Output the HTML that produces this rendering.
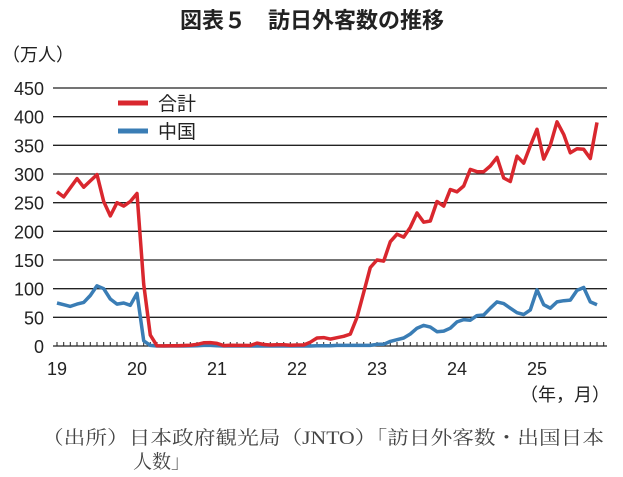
<!DOCTYPE html>
<html><head><meta charset="utf-8"><style>
body{margin:0;background:#fff;}
svg{display:block;}
</style></head><body>
<svg width="623" height="477" viewBox="0 0 623 477" xmlns="http://www.w3.org/2000/svg">
<text x="312" y="28" text-anchor="middle" font-family="'Liberation Sans','Noto Sans CJK JP',sans-serif" font-size="22" font-weight="bold" fill="#222">図表５　訪日外客数の推移</text>
<text x="2" y="61" font-family="'Liberation Sans','Noto Sans CJK JP',sans-serif" font-size="18" fill="#222">（万人）</text>
<g stroke="#222" stroke-width="1.3">
<line x1="53" x2="607" y1="88" y2="88"/><line x1="53" x2="607" y1="116.7" y2="116.7"/>
<line x1="53" x2="607" y1="145.3" y2="145.3"/><line x1="53" x2="607" y1="174" y2="174"/>
<line x1="53" x2="607" y1="202.7" y2="202.7"/><line x1="53" x2="607" y1="231.3" y2="231.3"/>
<line x1="53" x2="607" y1="260" y2="260"/><line x1="53" x2="607" y1="288.7" y2="288.7"/>
<line x1="53" x2="607" y1="317.3" y2="317.3"/><line x1="53" x2="607" y1="346" y2="346"/>
</g>
<g font-family="'Liberation Sans',sans-serif" font-size="18" fill="#222" text-anchor="end">
<text x="44" y="95">450</text><text x="44" y="123.7">400</text><text x="44" y="152.3">350</text>
<text x="44" y="181">300</text><text x="44" y="209.7">250</text><text x="44" y="238.3">200</text>
<text x="44" y="267">150</text><text x="44" y="295.7">100</text><text x="44" y="324.3">50</text>
<text x="44" y="353">0</text>
</g>
<g font-family="'Liberation Sans',sans-serif" font-size="18" fill="#222" text-anchor="middle">
<text x="57" y="375">19</text><text x="137" y="375">20</text><text x="217" y="375">21</text>
<text x="297" y="375">22</text><text x="377" y="375">23</text><text x="457" y="375">24</text>
<text x="537" y="375">25</text>
</g>
<text x="520" y="401" font-family="'Liberation Sans','Noto Sans CJK JP',sans-serif" font-size="18" fill="#222">（年，月）</text>
<path id="ticks" stroke="#222" stroke-width="1" fill="none" d=""/>
<line x1="118" x2="148" y1="103" y2="103" stroke="#d9272e" stroke-width="5"/>
<text x="158" y="110" font-family="'Liberation Sans','Noto Sans CJK JP',sans-serif" font-size="19" fill="#222">合計</text>
<line x1="118" x2="148" y1="131" y2="131" stroke="#3a7db5" stroke-width="5"/>
<text x="158" y="138" font-family="'Liberation Sans','Noto Sans CJK JP',sans-serif" font-size="19" fill="#222">中国</text>
<polyline id="cn" fill="none" stroke="#3a7db5" stroke-width="3.5" stroke-linejoin="round"/>
<polyline id="tot" fill="none" stroke="#d9272e" stroke-width="3.5" stroke-linejoin="round"/>
<text x="42" y="444" textLength="562" lengthAdjust="spacingAndGlyphs" font-family="'Liberation Serif','Noto Serif CJK SC',serif" font-size="19" fill="#444">（出所）日本政府観光局（JNTO）「訪日外客数・出国日本</text>
<text x="133" y="468" font-family="'Liberation Serif','Noto Serif CJK SC',serif" font-size="19" fill="#444">人数」</text>
<script>
var tot=[269,260,276,292,277,288,299,252,227,250,244,252,
266,108,19,0.3,0.2,0.3,0.4,0.9,1.4,2.8,5.6,5.9,
4.6,0.7,1.2,1.1,1,0.9,5.1,2.6,1.8,2.2,2.1,1.2,
1.7,1.7,6.6,13.9,14.7,12,14.5,16.9,20.7,49.9,93.5,137,
150,148,182,195,190,207,232,216,218,252,244,273,
269,279,308,304,304,314,329,293,287,331,319,349,
378,326,350,391,369,337,344,343,327,390];
var cn=[75,72,69,73,76,88,105,100,82,73,75,71,
92,9,1,0,0,0,0,0,0.2,0.5,1,1,
0.5,0,0,0,0,0,0,0,0,0,0,0,
0,0,0,0.5,0.5,0.5,1,1,1,1,1,1,
3,3,8,11,14,21,31,36,33,25,26,31,
42,46,45,53,54,66,77,74,66,58,55,63,
98,72,66,77,79,80,97,102,77,72];
function pts(a){return a.map(function(v,i){return (57+i*80/12).toFixed(1)+","+(346-v*258/450).toFixed(1)}).join(" ");}
document.getElementById("tot").setAttribute("points",pts(tot));
document.getElementById("cn").setAttribute("points",pts(cn));
var d="";for(var i=0;i<=82;i++){var x=(57+i*80/12).toFixed(1);d+="M"+x+" 346V342 ";}
document.getElementById("ticks").setAttribute("d",d);
</script>
</svg>
</body></html>
